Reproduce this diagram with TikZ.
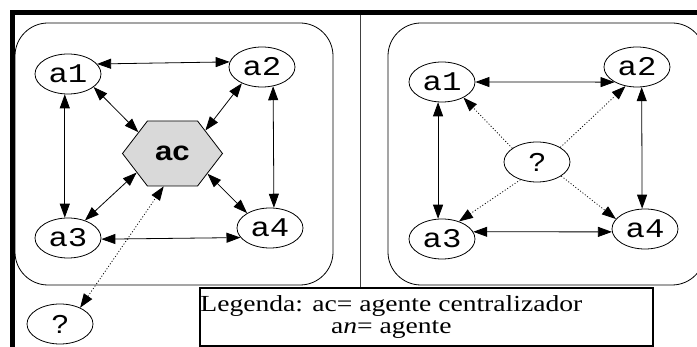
\documentclass[tikz,border=0pt]{standalone}
\usepackage{fontspec}
\setmainfont[FakeStretch=1.2]{Liberation Serif}
\newfontfamily\agentfont[FakeStretch=1.2]{Liberation Mono}
\newfontfamily\labelfont[FakeStretch=1.15]{Liberation Sans}
\usetikzlibrary{arrows.meta,shapes.geometric,shapes.symbols}

\begin{document}
\begin{tikzpicture}[x=1pt,y=-1pt,
      agent_node/.style={
         ellipse,
         draw=black,
         line width=0.8pt,
         inner sep=0pt,
         minimum width=66pt,
         minimum height=40pt,
         font=\agentfont\fontsize{27}{27}\selectfont},
      central_node/.style={
         signal,
         signal to=west and east,
         signal pointer angle=105,
         draw=black,
         line width=0.8pt,
         fill=gray!30,
         inner sep=0pt,
         minimum width=100pt,
         minimum height=65pt,
         font=\labelfont\bfseries\fontsize{27}{27}\selectfont},
      unknown_node/.style={
         agent_node,
         font=\labelfont\fontsize{26}{26}\selectfont},
      group_box/.style={
         draw=black,
         line width=0.8pt,
         rounded corners=33pt},
      arrow_both/.style={
         {Triangle[length=14pt,width=10pt]}-{Triangle[length=14pt,width=10pt]},
         line width=0.8pt},
      arrow_dotted/.style={
         -{Triangle[length=14pt,width=10pt]},
         line width=0.8pt,
         dash pattern=on 1pt off 2pt}
]
      \useasboundingbox (0,0) rectangle (697,347);
      %frame
      \draw[line width=5pt] (12.5,350) -- (12.5,12.5) -- (700,12.5);
      \draw[black!75,line width=0.9pt] (360,15) -- (360,287);
      \draw[group_box] (15,23) rectangle (333,285);
      \draw[group_box] (388,23) rectangle (705,285);

      %centralized
      \node[central_node] (ac) at (172.5,153.5) {ac};
      \node[agent_node] (l1) at (68,74) {a1};
      \node[agent_node] (l2) at (262,67) {a2};
      \node[agent_node] (l3) at (68,238) {a3};
      \node[agent_node] (l4) at (270,228) {a4};
      \node[unknown_node] (lq) at (60,324) {?};

    \foreach \i/\j in {% start anchor/end anchor
      l1.19/l2.171,
      l1.-99/l3.99,
      l2.-60/l4.79,
      l3.-2/l4.-162,
      l1.-27/ac.148,
      l2.-141/ac.35,
      l3.46/ac.-152,
      l4.147/ac.-30}
      \draw[arrow_both] (\i) -- (\j);
      \draw[arrow_dotted,{Triangle[length=14pt,width=10pt]}-{Triangle[length=14pt,width=10pt]}] (lq.39) -- (ac.-105);

      %distributed
      \node[agent_node] (r1) at (442,82) {a1};
      \node[agent_node] (r2) at (637,67) {a2};
      \node[agent_node] (r3) at (442,239) {a3};
      \node[agent_node] (r4) at (645,229) {a4};
      \node[unknown_node] (rq) at (537,162) {?};

    \foreach \i/\j in {
      r1.0/r2.-146,
      r1.-101/r3.101,
      r2.-77/r4.98,
      r3.13/r4.-175}
      \draw[arrow_both] (\i) -- (\j);
    \foreach \i/\j in {
      rq.151/r1.-36,
      rq.32/r2.-121,
      rq.-133/r3.46,
      rq.-30/r4.161}
      \draw[arrow_dotted] (\i) -- (\j);

      %legend
      \node[draw=black,line width=1.5pt,minimum width=453pt,minimum height=58pt,inner sep=0pt] (legend) at (426.5,317) {};
      \node[anchor=west,align=center,inner sep=0pt,font=\fontsize{23}{22}\selectfont] (legend_text) at ([xshift=1pt]legend.west) {Legenda: ac= agente centralizador\\a\textit{n}= agente};
\end{tikzpicture}
\end{document}
